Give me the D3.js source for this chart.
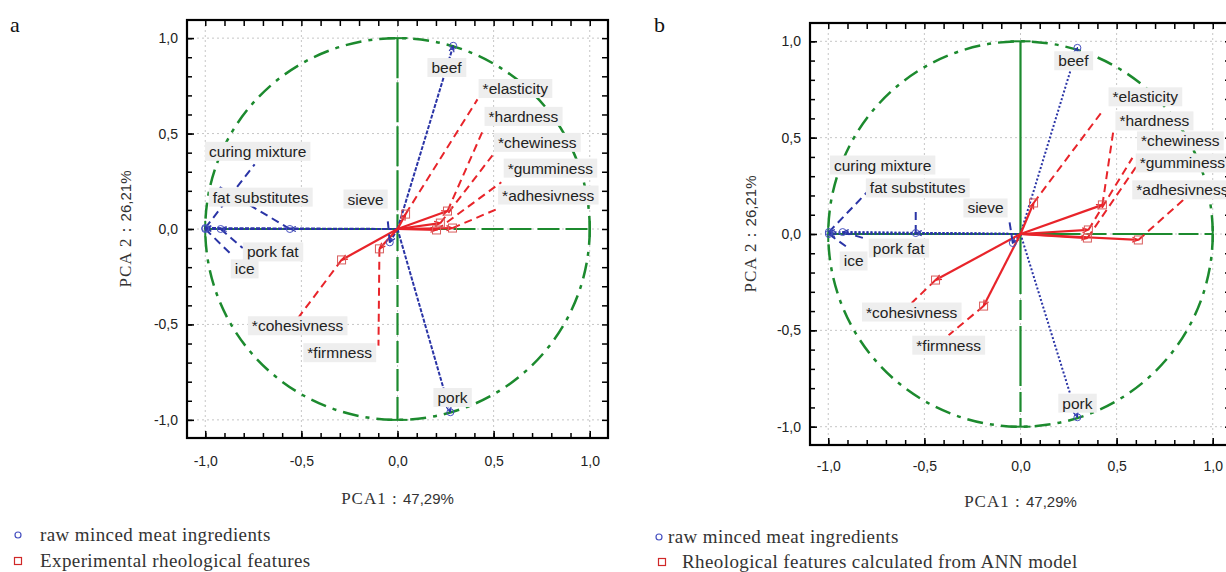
<!DOCTYPE html>
<html>
<head>
<meta charset="utf-8">
<script src="https://cdn.jsdelivr.net/npm/d3@7"></script>
<style>
  body { margin: 0; background: #fff; }
  svg { display: block; }
</style>
</head>
<body>
<svg id="chart" width="1226" height="572"></svg>
<script>
// axis ticks
const majorTicks = [-1, -0.5, 0, 0.5, 1];
const minorTicks = d3.range(-10, 11).map(d => d / 10);

// variable names
const ingNames = ["beef", "pork", "curing mixture", "fat substitutes", "sieve", "pork fat", "ice"];
const rheoNames = ["*elasticity", "*hardness", "*chewiness", "*gumminess", "*adhesivness", "*cohesivness", "*firmness"];

// panel a : loadings (point), end of leader line, label centre  [PCA1, PCA2]
const aIngPt  = [[0.29, 0.96], [0.275, -0.96], [-1.0, 0.005], [-0.56, 0.0], [-0.04, -0.07], [-0.92, 0.0], [-1.0, 0.0]];
const aIngEnd = [null, null, [-0.743, 0.339], [-0.925, 0.219], [-0.052, 0.057], [-0.805, -0.1], [-0.862, -0.136]];
const aIngLab = [[0.255, 0.846], [0.286, -0.883], [-0.727, 0.407], [-0.712, 0.167], [-0.166, 0.157], [-0.649, -0.12], [-0.795, -0.209]];
const aRheoPt  = [[0.042, 0.078], [0.26, 0.094], [0.223, 0.031], [0.203, -0.005], [0.286, 0.005], [-0.291, -0.162], [-0.094, -0.104]];
const aRheoEnd = [[0.416, 0.679], [0.447, 0.522], [0.494, 0.386], [0.54, 0.245], [0.53, 0.11], [-0.52, -0.47], [-0.099, -0.611]];
const aRheoLab = [[0.613, 0.736], [0.655, 0.59], [0.727, 0.454], [0.795, 0.319], [0.784, 0.178], [-0.52, -0.507], [-0.301, -0.648]];

// panel b
const bIngPt  = [[0.296, 0.966], [0.296, -0.951], [-0.997, 0.01], [-0.545, 0.005], [-0.04, -0.047], [-0.925, 0.01], [-0.997, 0.0]];
const bIngEnd = [null, null, [-0.717, 0.301], [-0.545, 0.14], [-0.057, 0.062], [-0.82, -0.02], [-0.9, -0.07]];
const bIngLab = [[0.275, 0.899], [0.296, -0.878], [-0.717, 0.358], [-0.535, 0.239], [-0.182, 0.135], [-0.634, -0.073], [-0.868, -0.14]];
const bRheoPt  = [[0.068, 0.161], [0.426, 0.151], [0.353, 0.021], [0.348, -0.021], [0.613, -0.031], [-0.442, -0.239], [-0.192, -0.374]];
const bRheoEnd = [[0.431, 0.644], [0.483, 0.535], [0.582, 0.395], [0.608, 0.358], [0.847, 0.177], [-0.566, -0.358], [-0.374, -0.525]];
const bRheoLab = [[0.649, 0.712], [0.696, 0.587], [0.831, 0.483], [0.842, 0.369], [0.842, 0.229], [-0.566, -0.405], [-0.374, -0.577]];

const xTitle = ["PCA1 : ", "47,29%"];
const yTitle = ["PCA 2 : ", "26,21%"];

const blue = "#2a34a6", red = "#e8242a", green = "#1c8a2e";
const fmt = d => d.toFixed(1).replace(".", ",");

const svg = d3.select("#chart");
const defs = svg.append("defs");
[["arrBlue", blue], ["arrRed", red]].forEach(([id, c]) => {
  defs.append("marker").attr("id", id)
    .attr("viewBox", "-7 -4 8 8").attr("refX", 0).attr("refY", 0)
    .attr("markerWidth", 8).attr("markerHeight", 8)
    .attr("markerUnits", "userSpaceOnUse").attr("orient", "auto")
    .append("path").attr("d", "M-6,-2.5L0,0L-6,2.5")
    .attr("fill", "none").attr("stroke", c).attr("stroke-width", 1.2);
});

function drawPanel(p) {
  const x = d3.scaleLinear().domain([-1.095, 1.095]).range([p.left, p.right]);
  const y = d3.scaleLinear().domain([-1.095, 1.095]).range([p.bottom, p.top]);
  const g = svg.append("g");

  // dotted grid
  g.selectAll(".gx").data(majorTicks).join("line").attr("class", "gx")
    .attr("x1", d => x(d)).attr("x2", d => x(d)).attr("y1", p.top).attr("y2", p.bottom)
    .attr("stroke", "#c6c6c6").attr("stroke-dasharray", "2,3");
  g.selectAll(".gy").data(majorTicks).join("line").attr("class", "gy")
    .attr("y1", d => y(d)).attr("y2", d => y(d)).attr("x1", p.left).attr("x2", p.right)
    .attr("stroke", "#c6c6c6").attr("stroke-dasharray", "2,3");

  // unit circle + green axes
  g.append("ellipse").attr("cx", x(0)).attr("cy", y(0))
    .attr("rx", x(1) - x(0)).attr("ry", y(-1) - y(0))
    .attr("fill", "none").attr("stroke", green).attr("stroke-width", 2.5)
    .attr("stroke-dasharray", "16,7,4,7");
  g.append("line").attr("x1", x(-1)).attr("x2", x(0)).attr("y1", y(0)).attr("y2", y(0))
    .attr("stroke", green).attr("stroke-width", 2.2).attr("stroke-dasharray", p.axisDashA);
  g.append("line").attr("x1", x(0)).attr("x2", x(1)).attr("y1", y(0)).attr("y2", y(0))
    .attr("stroke", green).attr("stroke-width", 2.2).attr("stroke-dasharray", p.axisDashB);
  g.append("line").attr("x1", x(0)).attr("x2", x(0)).attr("y1", y(1)).attr("y2", y(0))
    .attr("stroke", green).attr("stroke-width", 2.2).attr("stroke-dasharray", p.axisDashA);
  g.append("line").attr("x1", x(0)).attr("x2", x(0)).attr("y1", y(0)).attr("y2", y(-1))
    .attr("stroke", green).attr("stroke-width", 2.2).attr("stroke-dasharray", p.axisDashB);
  [-1, 1].forEach(v => {
    g.append("line").attr("x1", x(v)).attr("x2", x(v)).attr("y1", y(0) - 8).attr("y2", y(0) + 8)
      .attr("stroke", green).attr("stroke-width", 2);
    g.append("line").attr("y1", y(v)).attr("y2", y(v)).attr("x1", x(0) - 10).attr("x2", x(0) + 10)
      .attr("stroke", green).attr("stroke-width", 2);
  });

  // vectors from origin
  g.selectAll(".vi").data(p.ingPt).join("line").attr("class", "vi")
    .attr("x1", x(0)).attr("y1", y(0)).attr("x2", d => x(d[0])).attr("y2", d => y(d[1]))
    .attr("stroke", blue).attr("stroke-width", 2).attr("stroke-dasharray", p.blueDash)
    .attr("marker-end", "url(#arrBlue)");
  g.selectAll(".vr").data(p.rheoPt).join("line").attr("class", "vr")
    .attr("x1", x(0)).attr("y1", y(0)).attr("x2", d => x(d[0])).attr("y2", d => y(d[1]))
    .attr("stroke", red).attr("stroke-width", 2.2)
    .attr("marker-end", "url(#arrRed)");

  // leader lines to labels
  p.ingEnd.forEach((e, i) => {
    if (!e) return;
    g.append("line").attr("x1", x(p.ingPt[i][0])).attr("y1", y(p.ingPt[i][1]))
      .attr("x2", x(e[0])).attr("y2", y(e[1]))
      .attr("stroke", blue).attr("stroke-width", 2).attr("stroke-dasharray", "8,5");
  });
  p.rheoEnd.forEach((e, i) => {
    g.append("line").attr("x1", x(p.rheoPt[i][0])).attr("y1", y(p.rheoPt[i][1]))
      .attr("x2", x(e[0])).attr("y2", y(e[1]))
      .attr("stroke", red).attr("stroke-width", 2).attr("stroke-dasharray", "8,5");
  });

  // point markers
  g.selectAll(".pi").data(p.ingPt).join("circle").attr("class", "pi")
    .attr("cx", d => x(d[0])).attr("cy", d => y(d[1])).attr("r", 3.5)
    .attr("fill", "none").attr("stroke", "#4650c0").attr("stroke-width", 1);
  g.selectAll(".pr").data(p.rheoPt).join("rect").attr("class", "pr")
    .attr("x", d => x(d[0]) - 4).attr("y", d => y(d[1]) - 4).attr("width", 8).attr("height", 8)
    .attr("fill", "none").attr("stroke", "#d85c5c").attr("stroke-width", 1);

  // labels with grey boxes
  const labs = ingNames.map((n, i) => [n, p.ingLab[i]]).concat(rheoNames.map((n, i) => [n, p.rheoLab[i]]));
  labs.forEach(([name, pos]) => {
    const lg = g.append("g");
    const t = lg.append("text").attr("x", x(pos[0])).attr("y", y(pos[1]))
      .attr("text-anchor", "middle").attr("dominant-baseline", "central")
      .attr("font-family", "Liberation Sans, Arial, sans-serif").attr("font-size", 15.5)
      .attr("fill", "#222").text(name);
    const b = t.node().getBBox();
    lg.insert("rect", "text").attr("x", b.x - 4).attr("y", b.y - 1)
      .attr("width", b.width + 8).attr("height", b.height + 2).attr("fill", "#eeeeee");
  });

  // ticks on all four sides
  const tickStyle = a => {
    a.select(".domain").remove();
    a.selectAll("line").attr("stroke", "#000").attr("stroke-width", 1.5);
    a.selectAll("text").attr("font-family", "Liberation Sans, Arial, sans-serif")
      .attr("font-size", 14).attr("fill", "#222");
  };
  g.append("g").attr("transform", `translate(0,${p.bottom})`)
    .call(d3.axisBottom(x).tickValues(minorTicks).tickSize(-5).tickFormat("")).call(tickStyle);
  g.append("g").attr("transform", `translate(0,${p.bottom})`)
    .call(d3.axisBottom(x).tickValues(majorTicks).tickSize(-7).tickPadding(p.xPad).tickFormat(fmt)).call(tickStyle);
  g.append("g").attr("transform", `translate(0,${p.top})`)
    .call(d3.axisTop(x).tickValues(minorTicks).tickSize(-6).tickFormat("")).call(tickStyle);
  g.append("g").attr("transform", `translate(${p.left},0)`)
    .call(d3.axisLeft(y).tickValues(minorTicks).tickSize(-5).tickFormat("")).call(tickStyle);
  g.append("g").attr("transform", `translate(${p.left},0)`)
    .call(d3.axisLeft(y).tickValues(majorTicks).tickSize(-7).tickPadding(9).tickFormat(fmt)).call(tickStyle);
  g.append("g").attr("transform", `translate(${p.right},0)`)
    .call(d3.axisRight(y).tickValues(minorTicks).tickSize(-6).tickFormat("")).call(tickStyle);

  g.append("rect").attr("x", p.left).attr("y", p.top)
    .attr("width", p.right - p.left).attr("height", p.bottom - p.top)
    .attr("fill", "none").attr("stroke", "#000").attr("stroke-width", 2.2);

  // axis titles
  const xt = g.append("text").attr("x", x(0)).attr("y", p.xTitleY).attr("text-anchor", "middle").attr("fill", "#333");
  xt.append("tspan").attr("font-family", "Liberation Serif, Times New Roman, serif").attr("font-size", 17)
    .attr("letter-spacing", 1).text(xTitle[0]);
  xt.append("tspan").attr("font-family", "Liberation Sans Narrow, Liberation Sans, sans-serif").attr("font-size", 15).text(xTitle[1]);
  const yt = g.append("text").attr("transform", `translate(${p.yTitleX},${y(0)}) rotate(-90)`)
    .attr("text-anchor", "middle").attr("fill", "#333");
  yt.append("tspan").attr("font-family", "Liberation Serif, Times New Roman, serif").attr("font-size", 17)
    .attr("letter-spacing", 1).text(yTitle[0]);
  yt.append("tspan").attr("font-family", "Liberation Sans Narrow, Liberation Sans, sans-serif").attr("font-size", 15).text(yTitle[1]);

  // panel letter
  svg.append("text").attr("x", p.letterX).attr("y", 32)
    .attr("font-family", "Liberation Serif, Times New Roman, serif").attr("font-size", 22)
    .attr("fill", "#111").text(p.letter);

  // legend
  const lgd = svg.append("g").attr("font-family", "Liberation Serif, Times New Roman, serif")
    .attr("font-size", 19).attr("fill", "#333").attr("letter-spacing", 0.4);
  lgd.append("circle").attr("cx", p.leg.cx).attr("cy", p.leg.y1).attr("r", 3)
    .attr("fill", "none").attr("stroke", "#4650c0").attr("stroke-width", 1.2);
  lgd.append("text").attr("x", p.leg.tx1).attr("y", p.leg.y1 + 6).text(p.leg.t1);
  lgd.append("rect").attr("x", p.leg.sx - 3.5).attr("y", p.leg.y2 - 3.5).attr("width", 7).attr("height", 7)
    .attr("fill", "none").attr("stroke", "#d02828").attr("stroke-width", 1.2);
  lgd.append("text").attr("x", p.leg.tx2).attr("y", p.leg.y2 + 6).text(p.leg.t2);
}

drawPanel({
  letter: "a", letterX: 10,
  left: 187, right: 608, top: 20, bottom: 438,
  xPad: 18, xTitleY: 504, yTitleX: 131,
  axisDashA: "40,4", axisDashB: "22,6", blueDash: "4,1.5",
  ingPt: aIngPt, ingEnd: aIngEnd, ingLab: aIngLab,
  rheoPt: aRheoPt, rheoEnd: aRheoEnd, rheoLab: aRheoLab,
  leg: { cx: 18, sx: 18, y1: 535, y2: 561, tx1: 40, tx2: 40,
         t1: "raw minced meat ingredients", t2: "Experimental rheological features" }
});

drawPanel({
  letter: "b", letterX: 654,
  left: 810, right: 1231, top: 23, bottom: 445,
  xPad: 16, xTitleY: 507, yTitleX: 756,
  axisDashA: "none", axisDashB: "60,6,20,6", blueDash: "2,2",
  ingPt: bIngPt, ingEnd: bIngEnd, ingLab: bIngLab,
  rheoPt: bRheoPt, rheoEnd: bRheoEnd, rheoLab: bRheoLab,
  leg: { cx: 659, sx: 662, y1: 537, y2: 562, tx1: 668, tx2: 682,
         t1: "raw minced meat ingredients", t2: "Rheological features calculated from ANN model" }
});
</script>
</body>
</html>
